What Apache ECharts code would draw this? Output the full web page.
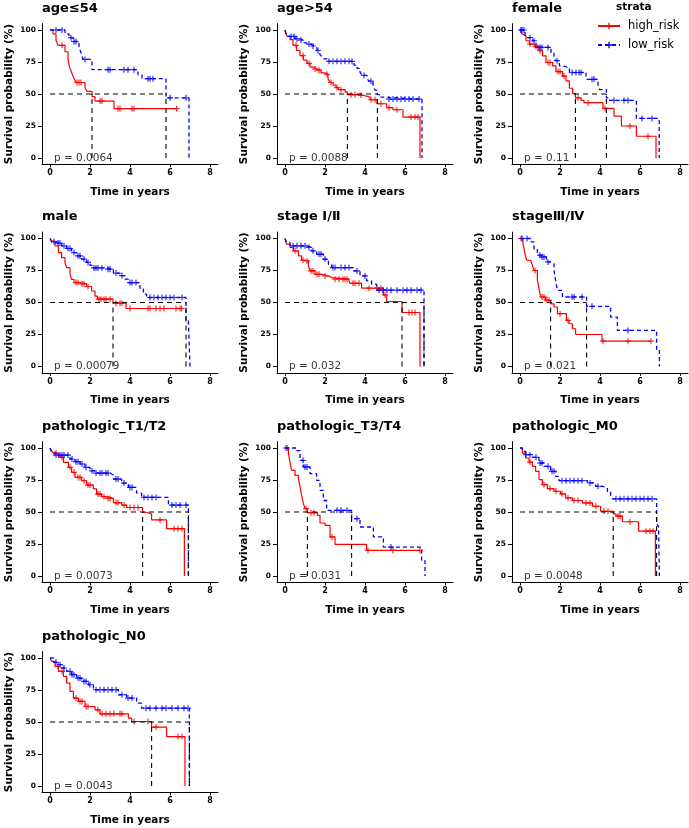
<!DOCTYPE html>
<html><head><meta charset="utf-8">
<script src="https://cdn.jsdelivr.net/npm/echarts@6/dist/echarts.min.js"></script>
<style>html,body{margin:0;padding:0;background:#fff}#c{width:689px;height:828px}</style>
</head><body><div id="c"></div>
<script>
// ---------- DATA ----------
const panelTitles = ['age\u226454','age>54','female','male','stage \u2160/\u2161','stage\u2162/\u2163','pathologic_T1/T2','pathologic_T3/T4','pathologic_M0','pathologic_N0'];
const pValues = ['0.0064','0.0088','0.11','0.00079','0.032','0.021','0.0073','0.031','0.0048','0.0043'];
const medianHigh = [2.1, 3.12, 2.77, 3.15, 5.85, 1.53, 4.63, 1.12, 4.66, 5.08];
const medianLow  = [5.8, 4.62, 4.32, 6.8, 6.95, 3.33, 6.92, 3.33, 6.83, 6.97];
const xTicks = [0,2,4,6,8];
const yTicks = [0,25,50,75,100];
const strataNames = ['high_risk','low_risk'];

const high_age_le54 = [[0,100],[0.15,97],[0.3,92],[0.4,88],[0.75,83],[0.9,77],[0.95,73],[1.0,70],[1.1,66],[1.2,62],[1.3,59],[1.75,55],[1.85,52],[2.1,48],[2.25,44.5],[3.2,38.5],[6.33,38.5]];
const low_age_le54  = [[0,100],[0.75,97],[0.95,94],[1.15,91],[1.45,87],[1.55,82],[1.65,77],[2.1,69],[4.4,65],[4.6,62],[5.8,47],[6.95,0]];
const censHigh_age_le54 = [0.6,1.35,1.45,1.55,2.5,2.6,3.4,3.5,4.1,4.2,6.33];
const censLow_age_le54  = [0.3,0.6,1.05,1.2,1.3,1.75,2.9,3.0,3.7,3.9,4.2,4.9,5.0,5.15,6.0,6.8];

const high_age_gt54 = [[0,100],[0.05,97],[0.1,95],[0.25,92.5],[0.4,88],[0.58,84],[0.75,80],[0.92,76.5],[1.1,74],[1.25,71],[1.45,69.5],[1.6,68.5],[1.8,66.5],[2.0,65.4],[2.15,62],[2.25,59],[2.4,57],[2.55,55],[2.67,53.4],[3.0,51.6],[3.12,49.5],[3.6,49],[3.9,47.6],[4.25,45.5],[4.6,42.4],[5.08,39.3],[5.4,37.7],[5.9,32],[6.75,0]];
const low_age_gt54  = [[0,100],[0.05,97],[0.15,95],[0.5,93],[0.75,92],[0.95,90],[1.1,89],[1.3,87.5],[1.45,86],[1.6,84],[1.7,82],[1.8,80],[1.9,77.5],[2.1,75.5],[3.45,72.5],[3.6,70],[3.75,67],[3.85,64.5],[4.1,62],[4.2,60],[4.4,57],[4.5,53],[4.62,49.5],[4.8,47.5],[5.0,46],[6.85,0]];
const censHigh_age_gt54 = [0.55,0.9,1.2,1.5,1.7,2.1,2.3,2.6,2.8,3.3,3.5,3.8,4.3,4.5,4.8,5.2,5.6,6.3,6.5,6.65];
const censLow_age_gt54  = [0.3,0.45,0.6,0.8,1.2,1.4,1.65,2.2,2.4,2.6,2.8,3.0,3.2,3.35,3.95,4.3,5.2,5.4,5.6,5.8,6.0,6.2,6.4,6.7];

const high_female = [[0,100],[0.1,97],[0.15,95.5],[0.3,91.6],[0.47,89],[0.72,87],[0.97,83.8],[1.13,79.8],[1.3,74.6],[1.63,72],[1.8,67.5],[2.13,64],[2.3,60.2],[2.47,54.5],[2.63,50.3],[2.77,47],[3.05,45],[3.2,43.2],[4.15,38.7],[4.7,32.7],[5.07,25],[5.82,17],[6.8,0]];
const low_female  = [[0,100],[0.25,97],[0.3,94],[0.63,91.6],[0.8,86.4],[1.55,82.5],[1.7,79],[1.8,76],[1.97,72],[2.13,70.7],[2.47,66.8],[3.3,61.5],[3.9,57],[3.98,53.4],[4.32,47],[4.48,45],[5.82,30.9],[6.96,0]];
const censHigh_female = [0.5,0.8,1.0,1.4,1.5,1.9,2.0,2.2,2.9,3.4,4.25,5.5,6.4];
const censLow_female  = [0.05,0.1,0.2,0.5,0.7,0.9,1.0,1.1,1.4,1.85,2.6,2.8,2.95,3.05,3.6,3.7,4.7,5.2,5.4,6.1,6.6];

const high_male = [[0,100],[0.08,98],[0.25,94.3],[0.42,89],[0.58,85],[0.75,81],[0.83,77.3],[1.0,72],[1.08,68],[1.2,65.6],[1.5,64.5],[1.83,62.5],[2.08,59],[2.25,55],[2.37,52.6],[3.15,49.5],[3.8,45.3],[6.58,45.3]];
const low_male  = [[0,100],[0.08,97.4],[0.33,96.4],[0.58,94.3],[0.83,92.2],[1.08,89],[1.33,86.5],[1.58,83.9],[1.83,81.3],[2.0,79],[2.15,77],[2.83,76],[3.17,73],[3.5,71],[3.75,68.2],[3.92,65.6],[4.5,60.9],[4.67,56.5],[4.83,53.9],[6.8,36.5],[6.92,34.4],[7.0,0]];
const censHigh_male = [1.3,1.4,1.6,1.7,1.9,2.45,2.55,2.7,2.8,3.0,3.3,3.5,3.6,4.0,4.9,5.0,5.3,5.5,5.7,6.3,6.5,6.58];
const censLow_male  = [0.2,0.4,0.5,0.7,0.9,1.0,1.2,1.4,1.5,1.7,1.9,2.2,2.3,2.4,2.6,2.9,3.0,3.3,3.6,4.0,4.1,4.3,5.0,5.2,5.4,5.6,5.8,6.0,6.2,6.6];

const high_stage12 = [[0,100],[0.08,95.6],[0.25,93],[0.42,90.4],[0.67,86.5],[0.83,83],[1.0,82.5],[1.17,78.6],[1.25,74.7],[1.5,72],[1.83,70.8],[2.17,69.5],[2.33,68.2],[3.17,67],[3.25,65],[3.83,61.2],[4.92,56],[5.08,50.8],[5.85,42.2],[6.75,0]];
const low_stage12  = [[0,100],[0.08,96.9],[0.25,94.3],[1.08,93],[1.33,90.4],[1.58,87.8],[1.92,83.9],[2.17,79.9],[2.33,77.3],[3.42,74.7],[3.75,70.8],[4.08,66.9],[4.33,64.3],[4.58,59.6],[6.95,0]];
const censHigh_stage12 = [0.5,0.9,1.1,1.3,1.4,1.6,1.7,2.0,2.5,2.7,2.9,3.0,3.1,3.4,3.5,3.7,4.2,4.6,4.8,5.0,6.2,6.35,6.5];
const censLow_stage12  = [0.4,0.6,0.8,1.0,1.2,1.4,1.7,1.8,2.0,2.4,2.5,2.8,3.0,3.2,3.6,4.0,4.7,4.9,5.1,5.3,5.6,5.9,6.1,6.3,6.6,6.8];

const high_stage34 = [[0,100],[0.15,96],[0.23,89.6],[0.33,83],[0.53,81.7],[0.62,79],[0.7,75],[0.87,67.4],[0.95,60.8],[1.03,54.3],[1.28,51.7],[1.53,49],[1.7,46.5],[1.87,41.3],[2.32,36],[2.45,33.4],[2.62,29.5],[2.78,25],[4.1,19.8],[6.55,19.8]];
const low_stage34  = [[0,100],[0.53,97.4],[0.7,92],[0.87,87],[1.03,85.6],[1.32,81.7],[1.53,80.4],[1.7,75.2],[1.78,67.4],[1.87,59.5],[2.12,54.3],[3.33,47],[4.53,38.6],[4.87,28.2],[6.83,13],[6.97,0]];
const censHigh_stage34 = [0.05,0.75,1.1,1.2,1.35,1.45,2.0,2.4,4.15,5.4,6.55];
const censLow_stage34  = [0.1,0.35,1.0,1.1,1.2,1.4,2.6,2.7,3.1,3.6,5.4];

const high_T12 = [[0,100],[0.08,98],[0.17,96],[0.42,92.7],[0.67,88.8],[0.92,84.9],[1.08,81],[1.25,77],[1.58,74.4],[1.83,71],[2.17,68],[2.33,64],[2.58,62],[2.83,60.6],[3.17,57.4],[3.58,55.4],[3.83,53.5],[4.63,49.8],[4.83,48.3],[5.08,43.8],[5.83,37],[6.72,0]];
const low_T12  = [[0,100],[0.08,96.6],[0.25,94.5],[1.0,91.4],[1.25,89.3],[1.5,87.5],[1.75,84.9],[2.0,82.2],[2.25,80.4],[3.0,78.9],[3.17,75.7],[3.58,72.6],[3.92,69.2],[4.33,64.8],[4.58,61.4],[5.92,55.4],[6.92,0]];
const censHigh_T12 = [0.3,0.6,1.0,1.2,1.4,1.5,1.7,1.9,2.0,2.4,2.5,2.7,2.9,3.0,3.3,3.4,3.7,4.0,4.2,4.4,5.5,6.2,6.4,6.6];
const censLow_T12  = [0.3,0.5,0.6,0.7,0.9,1.1,1.3,1.4,1.6,1.8,2.1,2.3,2.5,2.6,2.8,2.9,3.3,3.4,3.7,4.0,4.1,4.7,4.9,5.1,5.3,6.1,6.3,6.5,6.8];

const high_T34 = [[0,100],[0.17,95.6],[0.25,89],[0.33,82.5],[0.5,78.6],[0.67,76],[0.75,70],[0.83,63],[0.92,56.5],[1.0,52.6],[1.12,49.5],[1.62,47.4],[1.75,41.4],[2.0,39.6],[2.25,30.5],[2.5,24.7],[4.08,20],[6.75,20]];
const low_T34  = [[0,100],[0.58,98],[0.75,90.4],[0.92,85.2],[1.25,80],[1.58,74.7],[1.75,66.9],[1.92,59],[2.08,51.3],[3.33,44.8],[3.75,38.3],[4.42,30.5],[4.92,22.6],[6.83,12.2],[7.0,0]];
const censHigh_T34 = [0.05,1.05,1.3,1.45,2.35,4.15,5.4,6.75];
const censLow_T34  = [0.1,0.9,1.0,1.1,2.6,2.8,3.1,3.6,5.3];

const high_M0 = [[0,100],[0.12,96],[0.28,92.2],[0.45,89],[0.62,85.7],[0.78,81.8],[0.95,75.3],[1.12,71.4],[1.37,68.3],[1.7,66.2],[2.03,64.2],[2.28,61],[2.62,59],[3.12,57.1],[3.62,54.5],[4.03,50.6],[4.66,48.5],[4.8,46.8],[5.12,42.4],[5.93,35],[6.77,0]];
const low_M0  = [[0,100],[0.12,97.4],[0.28,94.8],[0.62,92.7],[0.95,88.3],[1.2,85.7],[1.53,81.8],[1.78,77.9],[1.95,74.5],[3.37,72.7],[3.78,70.1],[4.12,68.8],[4.37,66.2],[4.53,62.3],[4.62,60.3],[6.83,41.6],[6.93,38.2],[6.97,0]];
const censHigh_M0 = [0.5,1.2,1.5,1.8,2.1,2.4,2.7,2.9,3.3,3.5,3.8,4.2,4.4,4.9,5.0,5.5,6.3,6.5,6.65];
const censLow_M0  = [0.3,0.5,0.8,1.0,1.1,1.4,1.6,1.7,2.1,2.3,2.5,2.7,2.9,3.1,3.5,3.9,4.8,5.0,5.2,5.4,5.6,5.8,6.0,6.2,6.4,6.6];

const high_N0 = [[0,100],[0.08,97.4],[0.25,93.5],[0.42,89.6],[0.67,85.6],[0.83,80.4],[1.0,73.9],[1.17,68.7],[1.42,66.1],[1.75,62.1],[2.25,59.5],[2.5,56.4],[3.92,53],[4.08,50.4],[5.08,46],[5.83,38.6],[6.75,0]];
const low_N0  = [[0,100],[0.17,96.6],[0.33,94.8],[0.58,92.2],[0.83,89.6],[1.08,87],[1.33,84.3],[1.58,81.7],[1.92,79.1],[2.17,75.2],[3.42,71.3],[3.83,68.7],[4.33,64.8],[4.58,60.8],[6.97,0]];
const censHigh_N0 = [0.4,0.6,1.3,1.5,1.6,1.8,1.9,2.4,2.6,2.8,3.0,3.2,3.5,3.6,4.2,4.9,5.3,6.4,6.6];
const censLow_N0  = [0.3,0.5,0.7,1.0,1.1,1.2,1.4,1.5,1.7,1.8,2.0,2.3,2.5,2.7,2.9,3.1,3.3,3.6,3.9,4.1,4.8,5.0,5.3,5.6,5.8,6.1,6.4,6.7,6.9];

const highCurves = [high_age_le54, high_age_gt54, high_female, high_male, high_stage12, high_stage34, high_T12, high_T34, high_M0, high_N0];
const lowCurves  = [low_age_le54, low_age_gt54, low_female, low_male, low_stage12, low_stage34, low_T12, low_T34, low_M0, low_N0];
const highCensors = [censHigh_age_le54, censHigh_age_gt54, censHigh_female, censHigh_male, censHigh_stage12, censHigh_stage34, censHigh_T12, censHigh_T34, censHigh_M0, censHigh_N0];
const lowCensors  = [censLow_age_le54, censLow_age_gt54, censLow_female, censLow_male, censLow_stage12, censLow_stage34, censLow_T12, censLow_T34, censLow_M0, censLow_N0];

// ---------- LAYOUT / STYLE ----------
const colX0 = [50, 285, 520];
const rowY100 = [30, 238.5, 448, 658];
const PX_YEAR = 20, PX_PCT = 1.28;
const RED = '#ff0000', BLUE = '#0000ff';
const FONT = 'DejaVu Sans';
const PLUS = 'path://M2,0L3,0L3,2L5,2L5,3L3,3L3,5L2,5L2,3L0,3L0,2L2,2Z';

function survAt(steps, t) {
  let v = steps[0][1];
  for (const p of steps) { if (p[0] <= t) v = p[1]; else break; }
  return v;
}

const grid = [], xAxis = [], yAxis = [], series = [], title = [];
panelTitles.forEach((name, i) => {
  const col = i % 3, row = Math.floor(i / 3);
  const x0 = colX0[col], y100 = rowY100[row];
  grid.push({left: x0 - 0.4 * PX_YEAR, top: y100 - 5 * PX_PCT, width: 8.8 * PX_YEAR, height: 110 * PX_PCT});
  title.push({text: name, left: x0 - 0.4 * PX_YEAR, top: y100 - 28, padding: 0,
    textStyle: {fontFamily: FONT, fontWeight: 'bold', fontSize: 13, color: '#000'}});
  xAxis.push({gridIndex: i, type: 'value', min: -0.4, max: 8.4, splitLine: {show: false},
    axisLine: {onZero: false, lineStyle: {color: '#000', width: 1}},
    axisTick: {customValues: xTicks, length: 3, lineStyle: {color: '#000', width: 1}},
    axisLabel: {customValues: xTicks, margin: 5, fontFamily: FONT, fontWeight: 'bold', fontSize: 8, color: '#000'},
    name: 'Time in years', nameLocation: 'middle', nameGap: 22,
    nameTextStyle: {fontFamily: FONT, fontWeight: 'bold', fontSize: 10.5, color: '#000'}});
  yAxis.push({gridIndex: i, type: 'value', min: -5, max: 105, splitLine: {show: false},
    axisLine: {onZero: false, lineStyle: {color: '#000', width: 1}},
    axisTick: {customValues: yTicks, length: 4, lineStyle: {color: '#000', width: 1}},
    axisLabel: {customValues: yTicks, margin: 6, fontFamily: FONT, fontWeight: 'bold', fontSize: 7.5, color: '#000'},
    name: 'Survival probability (%)', nameLocation: 'middle', nameGap: 27, nameRotate: 90,
    nameTextStyle: {fontFamily: FONT, fontWeight: 'bold', fontSize: 10.5, color: '#000'}});

  const hi = highCurves[i], lo = lowCurves[i];
  series.push({type: 'line', name: strataNames[0], xAxisIndex: i, yAxisIndex: i, data: hi, step: 'end',
    symbol: PLUS, symbolSize: 8, showSymbol: false, silent: true, z: 3,
    lineStyle: {color: RED, width: 1.2}, itemStyle: {color: RED}});
  series.push({type: 'line', name: strataNames[1], xAxisIndex: i, yAxisIndex: i, data: lo, step: 'end',
    symbol: PLUS, symbolSize: 8, showSymbol: false, silent: true, z: 3,
    lineStyle: {color: BLUE, width: 1.3, type: [4, 3]}, itemStyle: {color: BLUE}});
  series.push({type: 'scatter', name: 'cens_high', xAxisIndex: i, yAxisIndex: i, silent: true, z: 3,
    symbol: PLUS, symbolSize: 6, itemStyle: {color: RED},
    data: highCensors[i].map(t => [t, survAt(hi, t)])});
  series.push({type: 'scatter', name: 'cens_low', xAxisIndex: i, yAxisIndex: i, silent: true, z: 3,
    symbol: PLUS, symbolSize: 6, itemStyle: {color: BLUE},
    data: lowCensors[i].map(t => [t, survAt(lo, t)])});

  const mh = medianHigh[i], ml = medianLow[i];
  const medStyle = {color: '#000', width: 1.1, type: [5, 4]};
  series.push({type: 'line', name: 'median', xAxisIndex: i, yAxisIndex: i, silent: true, z: 4, symbol: 'none',
    lineStyle: medStyle, data: [[0, 50], [Math.max(mh, ml), 50]]});
  series.push({type: 'line', name: 'median', xAxisIndex: i, yAxisIndex: i, silent: true, z: 4, symbol: 'none',
    lineStyle: medStyle, data: [[mh, 0], [mh, 50]]});
  series.push({type: 'line', name: 'median', xAxisIndex: i, yAxisIndex: i, silent: true, z: 4, symbol: 'none',
    lineStyle: medStyle, data: [[ml, 0], [ml, 50]]});

  series.push({type: 'scatter', name: 'pval', xAxisIndex: i, yAxisIndex: i, silent: true, z: 5,
    symbolSize: 1, itemStyle: {color: 'rgba(0,0,0,0)'}, data: [[0.17, 0]],
    label: {show: true, position: 'right', distance: 0, formatter: 'p = ' + pValues[i],
      fontFamily: FONT, fontSize: 10.5, color: '#000'}});
});

title.push({text: 'strata', left: 616, top: 2, padding: 0,
  textStyle: {fontFamily: FONT, fontWeight: 'bold', fontSize: 10.5, color: '#000'}});

const chart = echarts.init(document.getElementById('c'), null, {renderer: 'canvas'});
chart.setOption({
  animation: false,
  backgroundColor: '#fff',
  title: title,
  legend: {data: strataNames, orient: 'vertical', left: 597, top: 19, padding: 0, itemWidth: 22, itemHeight: 8, itemGap: 5,
    selectedMode: false,
    textStyle: {fontFamily: FONT, fontSize: 11.5, color: '#000', lineHeight: 14, padding: [0, 0, 0, 3]}},
  grid: grid, xAxis: xAxis, yAxis: yAxis, series: series
});
</script></body></html>
